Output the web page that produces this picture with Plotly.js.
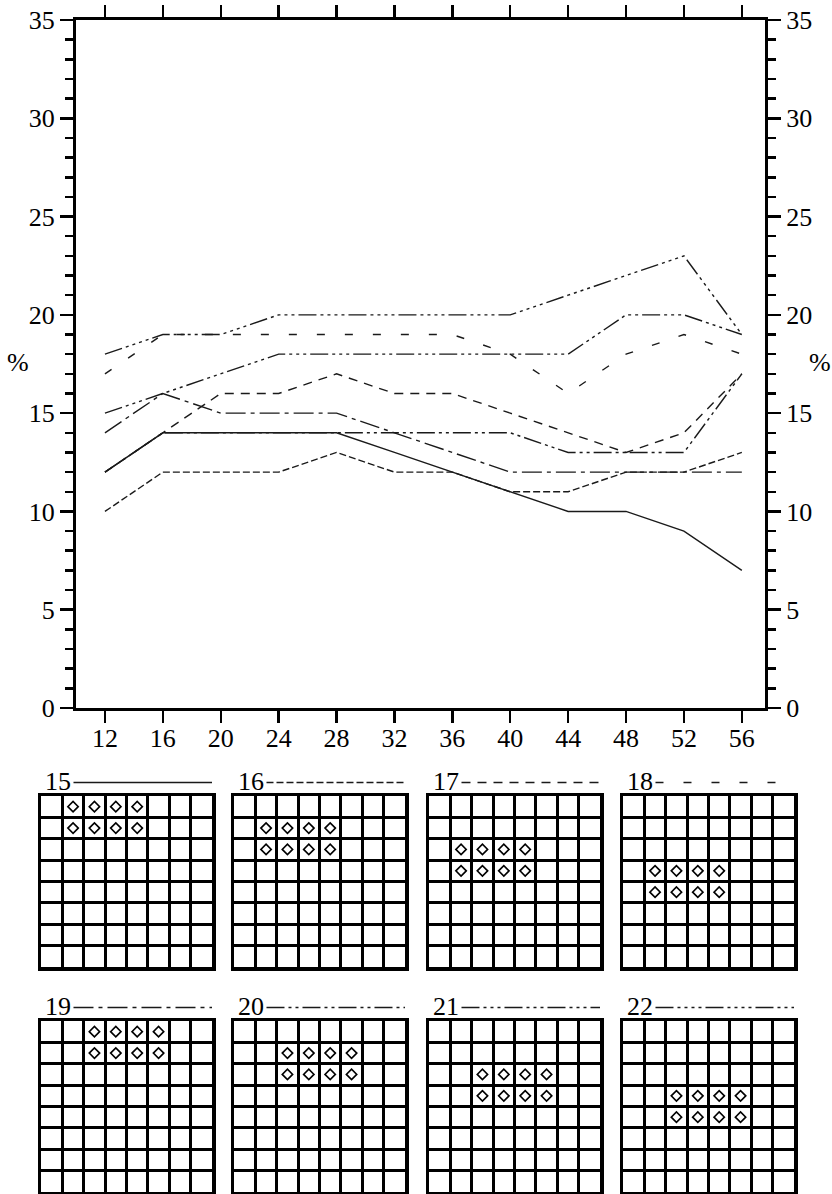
<!DOCTYPE html>
<html>
<head>
<meta charset="utf-8">
<script src="https://cdn.plot.ly/plotly-3.0.1.min.js"></script>
<style>
  html, body { margin: 0; padding: 0; background: #fff; }
  #chart { width: 832px; height: 1194px; }
</style>
</head>
<body>
<div id="chart"></div>
<script>
// ---------------- data ----------------
const xVals = [12, 16, 20, 24, 28, 32, 36, 40, 44, 48, 52, 56];
const yTicks = [0, 5, 10, 15, 20, 25, 30, 35];

const s15 = [12, 14, 14, 14, 14, 13, 12, 11, 10, 10, 9, 7];
const s16 = [10, 12, 12, 12, 13, 12, 12, 11, 11, 12, 12, 13];
const s17 = [12, 14, 16, 16, 17, 16, 16, 15, 14, 13, 14, 17];
const s18 = [17, 19, 19, 19, 19, 19, 19, 18, 16, 18, 19, 18];
const s19 = [14, 16, 15, 15, 15, 14, 13, 12, 12, 12, 12, 12];
const s20 = [12, 14, 14, 14, 14, 14, 14, 14, 13, 13, 13, 17];
const s21 = [15, 16, 17, 18, 18, 18, 18, 18, 18, 20, 20, 19];
const s22 = [18, 19, 19, 20, 20, 20, 20, 20, 21, 22, 23, 19];

const seriesNames = ['15', '16', '17', '18', '19', '20', '21', '22'];
const seriesData = [s15, s16, s17, s18, s19, s20, s21, s22];

// cells marked with a diamond in each 8x8 grid (column, row; row 1 = top)
const cols15 = [2, 3, 4, 5, 2, 3, 4, 5]; const rows15 = [1, 1, 1, 1, 2, 2, 2, 2];
const cols16 = [2, 3, 4, 5, 2, 3, 4, 5]; const rows16 = [2, 2, 2, 2, 3, 3, 3, 3];
const cols17 = [2, 3, 4, 5, 2, 3, 4, 5]; const rows17 = [3, 3, 3, 3, 4, 4, 4, 4];
const cols18 = [2, 3, 4, 5, 2, 3, 4, 5]; const rows18 = [4, 4, 4, 4, 5, 5, 5, 5];
const cols19 = [3, 4, 5, 6, 3, 4, 5, 6]; const rows19 = [1, 1, 1, 1, 2, 2, 2, 2];
const cols20 = [3, 4, 5, 6, 3, 4, 5, 6]; const rows20 = [2, 2, 2, 2, 3, 3, 3, 3];
const cols21 = [3, 4, 5, 6, 3, 4, 5, 6]; const rows21 = [3, 3, 3, 3, 4, 4, 4, 4];
const cols22 = [3, 4, 5, 6, 3, 4, 5, 6]; const rows22 = [4, 4, 4, 4, 5, 5, 5, 5];
const gridCols = [cols15, cols16, cols17, cols18, cols19, cols20, cols21, cols22];
const gridRows = [rows15, rows16, rows17, rows18, rows19, rows20, rows21, rows22];
const gridSize = 8;

// ---------------- styles ----------------
const dashes = [
  'solid',
  '7px,3px',
  '9px,7px',
  '8px,20px',
  '20px,5px,4px,5px',
  '18px,4px,3px,4px,3px,4px',
  '18px,4px,3px,4px,3px,4px,3px,4px',
  '18px,4px,3px,4px,3px,4px,3px,4px,3px,4px'
];
const lineColor = '#1a1a1a';
const FONT = "'Liberation Serif', 'Times New Roman', serif";
const W = 832, H = 1194;

// ---------------- traces ----------------
const traces = [];
seriesData.forEach((ys, i) => {
  traces.push({
    type: 'scatter', mode: 'lines', x: xVals, y: ys, name: seriesNames[i],
    xaxis: 'x', yaxis: 'y', showlegend: false, hoverinfo: 'skip',
    line: { color: lineColor, width: 1.4, dash: dashes[i] }
  });
});
// anchor trace for right-hand axis
traces.push({
  type: 'scatter', mode: 'lines', x: [xVals[0]], y: [null], xaxis: 'x', yaxis: 'y2',
  showlegend: false, hoverinfo: 'skip'
});

// small grids
const gridLeft = [41, 234, 429, 623];
const gridTop = [796, 1021];
const gridW = 171;
const tickFont = { family: FONT, size: 26, color: '#000' };
const layout = {
  width: W, height: H,
  margin: { l: 0, r: 0, t: 0, b: 0 },
  paper_bgcolor: '#fff', plot_bgcolor: 'rgba(0,0,0,0)',
  font: { family: FONT, size: 26, color: '#000' },
  showlegend: false,
  xaxis: {
    domain: [76 / W, 765 / W], range: [10, 57.6],
    tickvals: xVals, ticktext: xVals.map(String),
    ticks: 'outside', ticklen: 12, tickwidth: 2.5, tickcolor: '#000',
    showline: true, linewidth: 3, linecolor: '#000', mirror: 'ticks',
    showgrid: false, zeroline: false, anchor: 'y',
    ticklabelstandoff: -7,
    tickfont: tickFont
  },
  yaxis: {
    domain: [1 - 708 / H, 1 - 20 / H], range: [0, 35],
    tickvals: yTicks, ticktext: yTicks.map(String),
    ticks: 'outside', ticklen: 13, tickwidth: 2.5, tickcolor: '#000',
    minor: { dtick: 1, tick0: 0, ticks: 'outside', ticklen: 8, tickwidth: 2.5, tickcolor: '#000', showgrid: false },
    showline: true, linewidth: 3, linecolor: '#000',
    showgrid: false, zeroline: false, anchor: 'x',
    tickfont: tickFont
  },
  yaxis2: {
    overlaying: 'y', side: 'right', anchor: 'x', range: [0, 35],
    tickvals: yTicks, ticktext: yTicks.map(String),
    ticks: 'outside', ticklen: 13, tickwidth: 2.5, tickcolor: '#000',
    minor: { dtick: 1, tick0: 0, ticks: 'outside', ticklen: 8, tickwidth: 2.5, tickcolor: '#000', showgrid: false },
    showline: true, linewidth: 3, linecolor: '#000',
    showgrid: false, zeroline: false,
    tickfont: tickFont
  },
  annotations: [
    { xref: 'paper', yref: 'paper', x: 18 / W, y: 1 - 363 / H, text: '%', showarrow: false,
      xanchor: 'center', yanchor: 'middle', font: tickFont },
    { xref: 'paper', yref: 'paper', x: 820 / W, y: 1 - 363 / H, text: '%', showarrow: false,
      xanchor: 'center', yanchor: 'middle', font: tickFont }
  ],
  shapes: []
};

seriesNames.forEach((nm, i) => {
  const k = i + 3;
  const xa = 'xaxis' + k, ya = 'yaxis' + k;
  const col = i % 4, row = Math.floor(i / 4);
  const x0 = gridLeft[col], y0 = gridTop[row];
  const axCommon = {
    range: [0, gridSize], tick0: 0, dtick: 1, showticklabels: false, ticks: '',
    showgrid: true, gridcolor: '#000', gridwidth: 3,
    showline: true, linewidth: 3.5, linecolor: '#000', mirror: true,
    zeroline: false, fixedrange: true
  };
  layout[xa] = Object.assign({}, axCommon, { domain: [x0 / W, (x0 + gridW) / W], anchor: 'y' + k });
  layout[ya] = Object.assign({}, axCommon, { domain: [1 - (y0 + gridW) / H, 1 - y0 / H], anchor: 'x' + k });

  traces.push({
    type: 'scatter', mode: 'markers',
    x: gridCols[i].map(c => c - 0.5),
    y: gridRows[i].map(r => gridSize - r + 0.5),
    xaxis: 'x' + k, yaxis: 'y' + k, showlegend: false, hoverinfo: 'skip',
    marker: { symbol: 'diamond-open', size: 8, color: '#000', line: { width: 1.6, color: '#000' } }
  });

  const ly = 1 + 13.5 / gridW;
  layout.annotations.push({
    xref: 'x' + k + ' domain', yref: 'y' + k + ' domain', x: 0.01, y: ly + 0.005,
    text: nm, showarrow: false, xanchor: 'left', yanchor: 'middle',
    font: tickFont
  });
  layout.shapes.push({
    type: 'line', xref: 'x' + k + ' domain', yref: 'y' + k + ' domain',
    x0: 0.19, x1: 1.0, y0: ly, y1: ly,
    line: { color: lineColor, width: 1.4, dash: dashes[i] }
  });
});

Plotly.newPlot('chart', traces, layout, { staticPlot: true, displayModeBar: false });
</script>
</body>
</html>
